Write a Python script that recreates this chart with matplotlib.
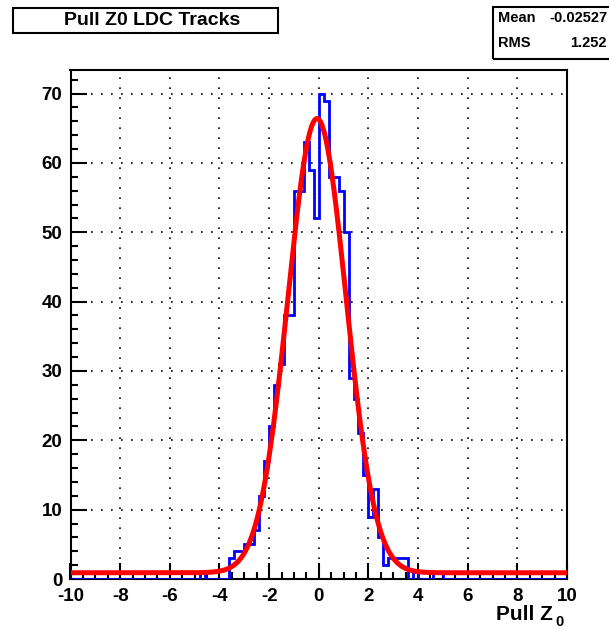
import numpy as np
import matplotlib.pyplot as plt
from matplotlib.patches import Rectangle

# histogram: 0.2 wide bins, values read for -5..5 (zero outside)
bin_w = 0.2
x_lo = -5.0
counts = [0, 1, 0, 0, 0, 0, 0, 3, 4, 4,
          5, 5, 7, 12, 17, 22, 28, 31, 38, 38,
          56, 56, 63, 59, 52, 70, 69, 58, 58, 56,
          50, 29, 26, 21, 15, 9, 13, 6, 2, 3,
          3, 3, 3, 0, 1, 0, 0, 0, 1, 1]

# gaussian + constant fit
fit_const = 65.5
fit_mean = -0.07
fit_sigma = 1.17
fit_p0 = 0.9

title = "Pull Z0 LDC Tracks"
stat_names = ["Mean", "RMS"]
stat_vals = ["-0.02527", "1.252"]

plt.rcParams['font.family'] = ['Liberation Sans', 'DejaVu Sans']
plt.rcParams['font.weight'] = 'bold'

W, H = 609, 629
fig = plt.figure(figsize=(W / 100, H / 100), dpi=100)
ax = fig.add_axes([70.5 / W, 1 - 579 / H, (567 - 70.5) / W, (579 - 70) / H])

# full range -10..10 with zeros
n_left = int(round((x_lo + 10) / bin_w))
n_right = int(round((10 - (x_lo + bin_w * len(counts))) / bin_w))
vals = np.concatenate([np.zeros(n_left), counts, np.zeros(n_right)])
edges = -10 + bin_w * np.arange(len(vals) + 1)
ax.stairs(vals, edges, color='blue', lw=2.0, zorder=3)

xf = np.linspace(-10, 10, 800)
yf = fit_p0 + fit_const * np.exp(-0.5 * ((xf - fit_mean) / fit_sigma) ** 2)
ax.plot(xf, yf, color='red', lw=3.6, zorder=4)

ax.set_xlim(-10, 10)
ax.set_ylim(0, 73.4)
ax.set_xticks(np.arange(-10, 11, 2))
ax.set_xticks(np.arange(-10, 10.1, 0.5), minor=True)
ax.set_yticks(np.arange(0, 71, 10))
ax.set_yticks(np.arange(0, 73, 2), minor=True)
ax.tick_params(which='both', direction='in', width=1.5, top=False, right=False,
               labelsize=13.5)
ax.tick_params(which='major', length=11.5)
ax.tick_params(which='minor', length=5)
ax.tick_params(axis='x', pad=6.5)
ax.tick_params(axis='y', pad=6)
ax.set_xticklabels([str(v) for v in range(-10, 11, 2)])
for lab in ax.get_xticklabels() + ax.get_yticklabels():
    lab.set_fontweight('bold')
ax.grid(True, which='major', color='black', linestyle=(0, (1, 5)), lw=1.2)
for s in ax.spines.values():
    s.set_linewidth(1.5)

fig.text(553 / W, 1 - 620 / H, "Pull Z", ha='right', va='baseline',
         fontsize=15, fontweight='bold')
fig.text(555 / W, 1 - 626 / H, "0", ha='left', va='baseline',
         fontsize=10.5, fontweight='bold')

# title box
fig.patches.append(Rectangle((13 / W, 1 - 33 / H), (278 - 13) / W, 25 / H,
                             transform=fig.transFigure, fill=False,
                             lw=1.5, edgecolor='black'))
fig.text(152 / W, 1 - 20.5 / H, title, ha='center', va='center',
         fontsize=14, fontweight='bold')

# stats box
fig.patches.append(Rectangle((493 / W, 1 - 59 / H), 130 / W, 52 / H,
                             transform=fig.transFigure, fill=False,
                             lw=1.5, edgecolor='black'))
for i, (n, v) in enumerate(zip(stat_names, stat_vals)):
    yy = 1 - (18 + 25 * i) / H
    fig.text(498 / W, yy, n, ha='left', va='center', fontsize=10.5, fontweight='bold')
    fig.text(607 / W, yy, v, ha='right', va='center', fontsize=10.5, fontweight='bold')

fig.savefig('out.png', dpi=100)
